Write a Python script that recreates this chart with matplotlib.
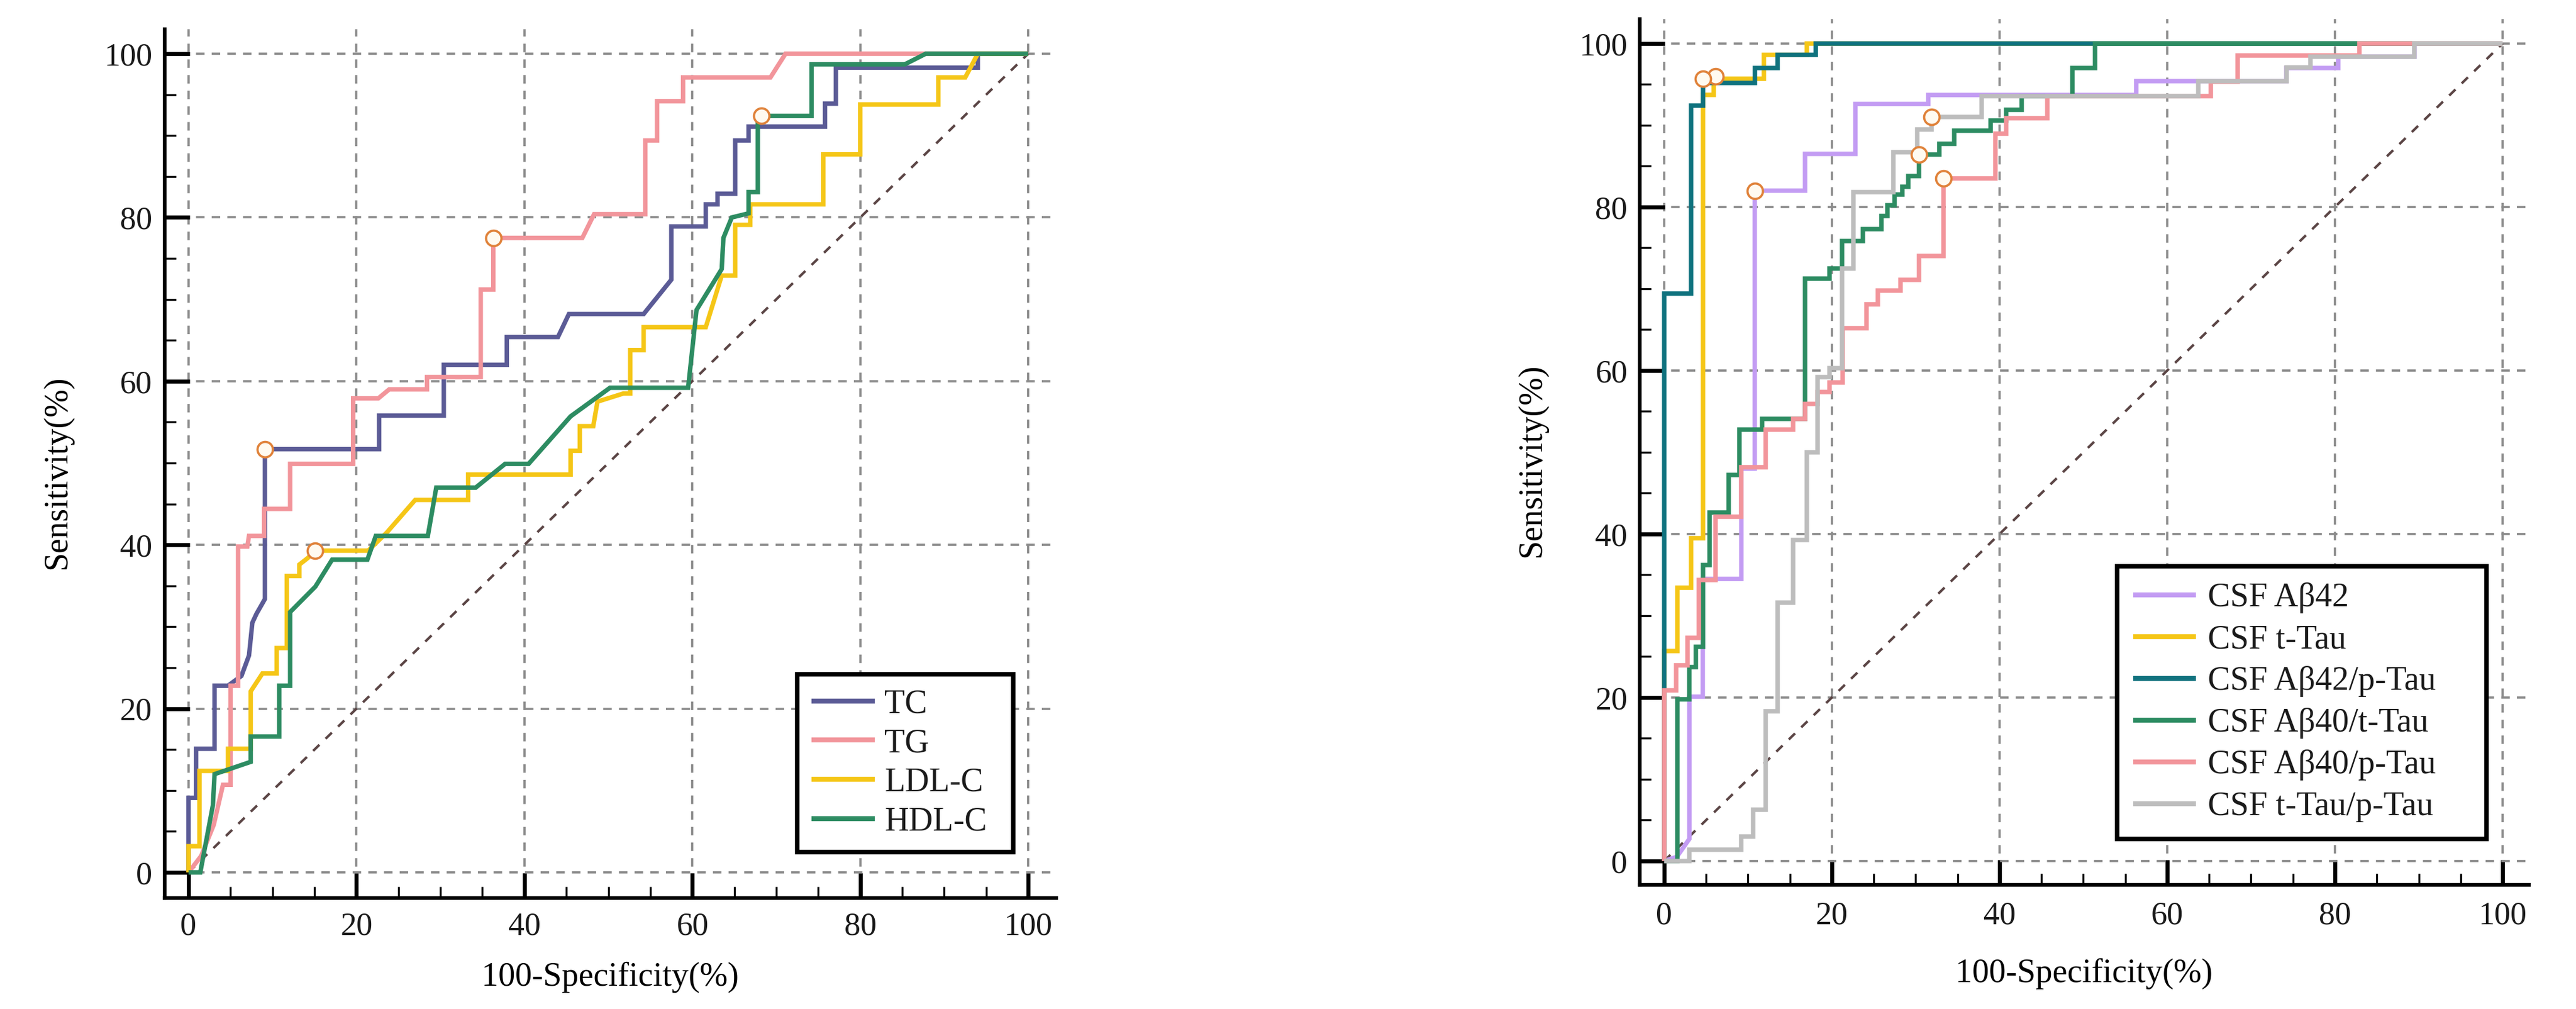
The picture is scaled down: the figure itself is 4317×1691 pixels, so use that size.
import matplotlib
matplotlib.use("Agg")
import matplotlib.pyplot as plt
from matplotlib.ticker import MultipleLocator

plt.rcParams['font.family'] = ['Liberation Serif', 'DejaVu Serif']
plt.rcParams['text.color'] = '#1a1a1a'

# ---------------- data: left panel (lipids) ----------------
left_labels = ["TC", "TG", "LDL-C", "HDL-C"]
left_colors = ["#5b5b96", "#f2959b", "#f5c617", "#2d8c62"]

TC_pts = [(0,0),(0,9.1),(0.9,9.1),(0.9,15.1),(3.1,15.1),(3.1,22.8),(4.7,22.8),(6.3,24.0),(7.2,26.5),(7.6,30.5),
          (8.1,31.6),(9.1,33.4),(9.1,51.7),(22.7,51.7),(22.7,55.8),(30.4,55.8),(30.4,62.0),(37.9,62.0),(37.9,65.4),
          (44.0,65.4),(45.3,68.2),(54.2,68.2),(57.5,72.4),(57.5,78.9),(61.6,78.9),(61.6,81.6),(63.0,81.6),(63.0,82.9),
          (65.1,82.9),(65.1,89.4),(66.7,89.4),(66.7,91.1),(75.8,91.1),(75.8,93.9),(77.1,93.9),(77.1,98.3),(94.0,98.3),
          (94.0,100),(100,100)]
TG_pts = [(0,0),(1.5,2.0),(3.0,5.8),(4.1,10.7),(5.0,10.7),(5.0,22.8),(5.9,22.8),(5.9,39.8),(7.0,39.8),(7.2,41.1),
          (9.0,41.1),(9.0,44.4),(12.1,44.4),(12.1,49.9),(19.6,49.9),(19.6,57.9),(22.6,57.9),(23.9,59.0),(28.4,59.0),
          (28.4,60.5),(34.8,60.5),(34.8,71.2),(36.3,71.2),(36.3,77.5),(46.9,77.5),(48.3,80.4),(54.4,80.4),(54.4,89.4),
          (55.8,89.4),(55.8,94.2),(58.9,94.2),(58.9,97.1),(69.3,97.1),(71.1,100),(100,100)]
LDL_pts = [(0,0),(0,3.2),(1.3,3.2),(1.3,12.4),(4.7,12.4),(4.7,15.1),(7.4,15.1),(7.4,22.1),(8.8,24.3),(10.5,24.3),
           (10.5,27.4),(11.7,27.4),(11.7,36.2),(13.2,36.2),(13.2,37.6),(14.2,38.4),(15.1,39.3),(21.4,39.3),(23.6,41.5),
           (27.0,45.5),(33.3,45.5),(33.3,48.6),(45.5,48.6),(45.5,51.5),(46.6,51.5),(46.6,54.5),(48.2,54.5),(48.7,57.5),
           (51.8,58.5),(52.6,58.5),(52.6,63.8),(54.2,63.8),(54.2,66.6),(61.6,66.6),(63.5,72.9),(65.1,72.9),(65.1,79.1),
           (66.9,79.1),(66.9,81.6),(75.6,81.6),(75.6,87.7),(80.0,87.7),(80.0,93.8),(89.3,93.8),(89.3,97.1),(92.5,97.1),
           (94.0,100),(100,100)]
HDL_pts = [(0,0),(1.4,0),(2.9,8.2),(3.1,12.0),(7.4,13.5),(7.4,16.6),(10.8,16.6),(10.8,22.8),(12.1,22.8),(12.1,31.8),
           (15.1,34.9),(17.1,38.2),(21.3,38.2),(22.3,41.1),(28.5,41.1),(29.5,47.0),(34.2,47.0),(37.7,49.9),(40.5,49.9),
           (45.5,55.7),(50.2,59.2),(59.5,59.2),(60.5,68.7),(63.5,73.7),(63.7,77.5),(64.7,80.0),(66.7,80.5),(66.7,83.1),
           (67.8,83.1),(67.8,92.4),(74.2,92.4),(74.2,98.7),(85.3,98.7),(87.8,100),(100,100)]
left_curves = [TC_pts, TG_pts, LDL_pts, HDL_pts]
left_cutoffs = [(9.1, 51.7), (36.3, 77.5), (15.1, 39.3), (68.2, 92.4)]

# ---------------- data: right panel (CSF) ----------------
right_labels = ["CSF Aβ42", "CSF t-Tau", "CSF Aβ42/p-Tau", "CSF Aβ40/t-Tau", "CSF Aβ40/p-Tau", "CSF t-Tau/p-Tau"]
right_colors = ["#c39cf3", "#f5c617", "#0f727e", "#2d8c62", "#f2959b", "#bdbdbd"]

AB42_pts = [(0,0),(1.5,0.5),(3.0,2.7),(3.0,20.1),(4.6,20.1),(4.6,34.5),(9.2,34.5),(9.2,48.0),(10.8,48.0),(10.8,82.0),
            (16.8,82.0),(16.8,86.5),(22.8,86.5),(22.8,92.6),(31.5,92.6),(31.5,93.7),(56.3,93.7),(56.3,95.4),(74.2,95.4),
            (74.2,97.0),(80.4,97.0),(80.4,98.4),(89.5,98.4),(89.5,100),(100,100)]
TTAU_pts = [(0,0),(0,25.7),(1.6,25.7),(1.6,33.4),(3.2,33.4),(3.2,39.5),(4.6,39.5),(4.6,93.7),(5.9,93.7),(5.9,95.7),
            (11.9,95.7),(11.9,98.6),(17.0,98.6),(17.0,100),(100,100)]
AB42P_pts = [(0,0),(0,69.4),(3.2,69.4),(3.2,92.4),(4.6,92.4),(4.6,95.2),(10.8,95.2),(10.8,97.0),(13.5,97.0),(13.5,98.6),
             (18.1,98.6),(18.1,100),(100,100)]
AB40T_pts = [(0,0),(1.6,0),(1.6,19.8),(3.0,19.8),(3.0,23.7),(3.8,23.7),(3.8,26.2),(4.6,26.2),(4.6,36.2),(5.4,36.2),
             (5.4,42.6),(7.7,42.6),(7.7,47.2),(9.0,47.2),(9.0,52.8),(11.7,52.8),(11.7,54.1),(16.8,54.1),(16.8,71.2),
             (19.7,71.2),(19.7,72.5),(21.2,72.5),(21.2,75.8),(23.7,75.8),(23.7,77.3),(25.9,77.3),(25.9,78.9),(26.6,78.9),
             (26.6,80.2),(27.5,80.2),(27.5,81.5),(28.4,81.5),(28.4,82.5),(29.1,82.5),(29.1,83.8),(30.4,83.8),(30.4,86.4),
             (32.8,86.4),(32.8,87.7),(34.6,87.7),(34.6,89.3),(38.9,89.3),(38.9,90.6),(40.8,90.6),(40.8,91.9),(42.6,91.9),
             (42.6,93.6),(48.7,93.6),(48.7,97.0),(51.4,97.0),(51.4,100),(100,100)]
AB40P_pts = [(0,0),(0,20.9),(1.4,20.9),(1.4,23.9),(2.8,23.9),(2.8,27.3),(4.1,27.3),(4.1,34.4),(6.1,34.4),(6.1,42.1),
             (9.2,42.1),(9.2,48.2),(12.1,48.2),(12.1,52.8),(15.4,52.8),(15.4,54.1),(16.8,54.1),(16.8,55.9),(18.3,55.9),
             (18.3,57.4),(19.7,57.4),(19.7,58.5),(21.3,58.5),(21.3,65.2),(24.1,65.2),(24.1,68.1),(25.5,68.1),(25.5,69.8),
             (28.2,69.8),(28.2,71.1),(30.4,71.1),(30.4,74.0),(33.3,74.0),(33.3,83.5),(39.5,83.5),(39.5,89.0),(40.8,89.0),
             (40.8,90.9),(45.7,90.9),(45.7,93.6),(65.2,93.6),(65.2,95.3),(68.4,95.3),(68.4,98.5),(82.9,98.5),(82.9,100),
             (100,100)]
TTP_pts = [(0,0),(3.0,0),(3.0,1.4),(9.2,1.4),(9.2,3.0),(10.6,3.0),(10.6,6.3),(12.1,6.3),(12.1,18.3),(13.5,18.3),
           (13.5,31.6),(15.4,31.6),(15.4,39.3),(17.0,39.3),(17.0,50.0),(18.3,50.0),(18.3,59.2),(19.7,59.2),(19.7,60.3),
           (21.2,60.3),(21.2,72.5),(22.6,72.5),(22.6,81.8),(27.3,81.8),(27.3,86.7),(30.2,86.7),(30.2,89.5),(31.9,89.5),
           (31.9,91.0),(37.9,91.0),(37.9,93.6),(63.7,93.6),(63.7,95.4),(74.2,95.4),(74.2,97.1),(77.1,97.1),(77.1,98.4),
           (89.5,98.4),(89.5,100),(100,100)]
right_curves = [AB42_pts, TTAU_pts, AB42P_pts, AB40T_pts, AB40P_pts, TTP_pts]
right_cutoffs = [(10.8, 82.0), (6.1, 96.0), (4.6, 95.7), (30.4, 86.4), (33.3, 83.5), (31.9, 91.0)]

x_ticks = [0, 20, 40, 60, 80, 100]
y_ticks = [0, 20, 40, 60, 80, 100]
x_title = "100-Specificity(%)"
y_title = "Sensitivity(%)"

# ---------------- figure ----------------
W, H, DPI = 4317, 1691, 300
fig = plt.figure(figsize=(W / DPI, H / DPI), dpi=DPI)
fig.patch.set_facecolor("white")

FS = 13
LEG_FS = 13.5


def style_axes(ax, xlim, ylim, xpad):
    ax.set_xlim(*xlim)
    ax.set_ylim(*ylim)
    for s in ("top", "right"):
        ax.spines[s].set_visible(False)
    for s in ("left", "bottom"):
        ax.spines[s].set_linewidth(1.5)
        ax.spines[s].set_color("black")
    ax.set_xticks(x_ticks)
    ax.set_yticks(y_ticks)
    ax.xaxis.set_minor_locator(MultipleLocator(5))
    ax.yaxis.set_minor_locator(MultipleLocator(5))
    ax.tick_params(which="major", direction="in", length=10, width=1.6, colors="black",
                   labelsize=FS, labelcolor="#1a1a1a")
    ax.tick_params(axis="x", which="major", pad=xpad)
    ax.tick_params(axis="y", which="major", pad=5)
    ax.tick_params(which="minor", direction="in", length=4.5, width=0.8, colors="black")
    ax.grid(True, which="major", color="#8c8c8c", linewidth=0.9, linestyle=(0, (3.8, 3.2)), zorder=0)
    ax.set_axisbelow(True)
    ax.plot([0, 100], [0, 100], color="#5b4545", linewidth=1.0, linestyle=(0, (3.5, 3.5)), zorder=1)
    ax.set_xlabel(x_title, fontsize=FS + 0.5)
    ax.set_ylabel(y_title, fontsize=FS + 0.5)
    ax.yaxis.label.set_verticalalignment("center")


def draw_curves(ax, curves, labels, colors, cutoffs):
    handles = []
    for pts, lab, col in zip(curves, labels, colors):
        xs = [p[0] for p in pts]
        ys = [p[1] for p in pts]
        h, = ax.plot(xs, ys, color=col, linewidth=1.8, label=lab, zorder=3,
                     solid_joinstyle="miter", solid_capstyle="butt")
        handles.append(h)
    cx = [c[0] for c in cutoffs]
    cy = [c[1] for c in cutoffs]
    ax.plot(cx, cy, linestyle="none", marker="o", markersize=6.2, markerfacecolor="#fffaf0",
            markeredgecolor="#e0823a", markeredgewidth=0.9, zorder=5)
    return handles


# left axes
axL = fig.add_axes([0.0639, 0.1100, 0.3460, 0.8611])
style_axes(axL, (-2.85, 103.3), (-3.13, 103.0), 5.5)
hL = draw_curves(axL, left_curves, left_labels, left_colors, left_cutoffs)
axL.xaxis.set_label_coords(0.5, -0.073)
axL.yaxis.set_label_coords(-0.120, 0.49)
legL = axL.legend(handles=hL, loc="upper left", bbox_to_anchor=(0.7099, 0.0474, 0.9520 - 0.7099, 0.2575 - 0.0474),
                  mode="expand", fontsize=LEG_FS, frameon=True, fancybox=False, framealpha=1.0,
                  edgecolor="black", borderpad=0.43, labelspacing=0.245, handlelength=1.87,
                  handletextpad=0.30, borderaxespad=0.0)
legL.get_frame().set_linewidth(1.8)
legL.set_zorder(6)

# right axes
axR = fig.add_axes([0.6366, 0.1232, 0.3450, 0.8580])
style_axes(axR, (-2.9, 103.1), (-2.9, 103.0), 6.5)
hR = draw_curves(axR, right_curves, right_labels, right_colors, right_cutoffs)
axR.xaxis.set_label_coords(0.5, -0.085)
axR.yaxis.set_label_coords(-0.1215, 0.49)
legR = axR.legend(handles=hR, loc="upper left", bbox_to_anchor=(0.5368, 0.0466, 0.9524 - 0.5368, 0.3679 - 0.0466),
                  mode="expand", fontsize=LEG_FS, frameon=True, fancybox=False, framealpha=1.0,
                  edgecolor="black", borderpad=0.49, labelspacing=0.32, handlelength=1.87,
                  handletextpad=0.34, borderaxespad=0.0)
legR.get_frame().set_linewidth(1.8)
legR.set_zorder(6)

for leg in (legL, legR):
    for ln in leg.get_lines():
        ln.set_linewidth(2.0)

fig.savefig("out.png", dpi=DPI, facecolor="white")
